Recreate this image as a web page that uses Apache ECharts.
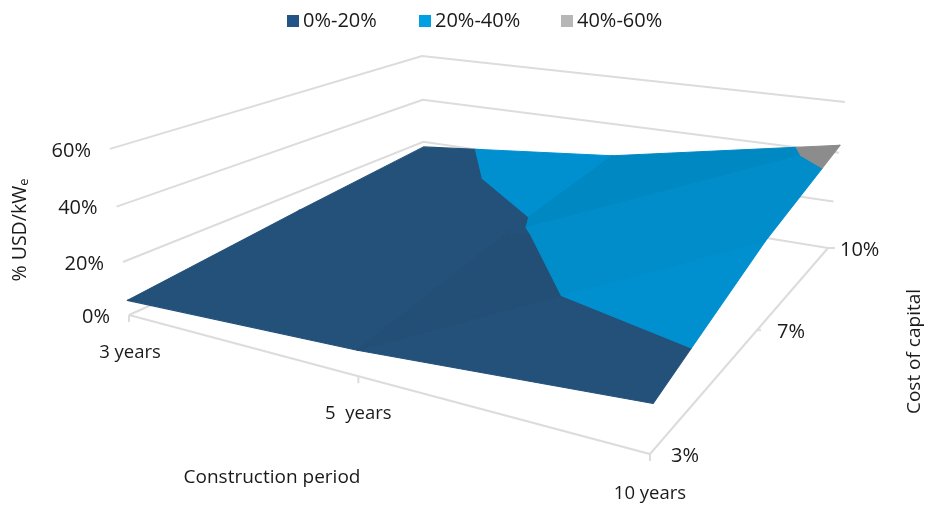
<!DOCTYPE html>
<html><head><meta charset="utf-8">
<style>html,body{margin:0;padding:0;background:#fff}#c{width:925px;height:505px}</style>
<script src="https://cdn.jsdelivr.net/npm/echarts@6/dist/echarts.min.js"></script>
</head><body><div id="c"></div>
<script>
// ---- values ----
const periods = ['3 years', '5  years', '10 years'];
const costs = ['3%', '7%', '10%'];
const valueTicks = [0, 20, 40, 60];
const cost3 = [5.6, 8.8, 15];
const cost7 = [12, 18.7, 32];
const cost10 = [17.5, 26, 43];
const bands = ['0%-20%', '20%-40%', '40%-60%'];
const bandLimits = [[0, 20], [20, 40], [40, 60]];

// ---- style / camera of the 3-D box ----
const surface = [cost3, cost7, cost10];
const uPos = [0, 0.505, 1], vPos = [0, 0.5, 1];
const F = {p00:[129,315], p10:[650,454], p11:[828,248], p01:[424,182], vanish:[472,3308]};
const invK = {p00:18.02, p10:13.46, p11:20.96, p01:24.8};
const legendColors = ['#235487', '#00a0e3', '#b7b7b7'];
const tones = [['#24517a', '#234e75'], ['#0090d0', '#0088c3', '#008dca'], ['#8c8c8c']];
// triangles over the grid: three [row,col] corners, then the tone used in each band
const tris = [
  [[0,0],[0,1],[1,1],0,0],[[0,0],[1,1],[1,0],0,0],
  [[0,1],[0,2],[1,2],0,0],[[0,1],[1,2],[1,1],1,2],
  [[1,0],[2,1],[2,0],0,0],[[1,0],[1,1],[2,1],0,0],
  [[1,1],[2,2],[2,1],0,1],[[1,1],[1,2],[2,2],0,2]
];

const s = [F.p00[0]-F.p10[0]+F.p11[0]-F.p01[0], F.p00[1]-F.p10[1]+F.p11[1]-F.p01[1]];
const d1 = [F.p10[0]-F.p11[0], F.p10[1]-F.p11[1]], d2 = [F.p01[0]-F.p11[0], F.p01[1]-F.p11[1]];
const det = d1[0]*d2[1]-d2[0]*d1[1];
const g = (s[0]*d2[1]-d2[0]*s[1])/det, h = (d1[0]*s[1]-s[0]*d1[1])/det;
const ax = F.p10[0]-F.p00[0]+g*F.p10[0], ay = F.p10[1]-F.p00[1]+g*F.p10[1];
const bx = F.p01[0]-F.p00[0]+h*F.p01[0], by = F.p01[1]-F.p00[1]+h*F.p01[1];

function project(u, v, z) {
  const w = g*u + h*v + 1;
  const x = (ax*u + bx*v + F.p00[0]) / w, y = (ay*u + by*v + F.p00[1]) / w;
  const ik = (1-u)*(1-v)*invK.p00 + u*(1-v)*invK.p10 + u*v*invK.p11 + (1-u)*v*invK.p01;
  const t = z/60, f = 0.938*t/(1-0.062*t);
  const q = f/ik;
  return [x + (x-F.vanish[0])*q, y + (y-F.vanish[1])*q];
}

// clip a triangle to a value band in (u,v,z), keeping straight contour edges
function clip(poly, limit, keepAbove) {
  const out = [];
  const inside = p => keepAbove ? p[2] >= limit : p[2] <= limit;
  poly.forEach((a, i) => {
    const b = poly[(i+1)%poly.length];
    if (inside(a)) out.push(a);
    if (inside(a) !== inside(b)) {
      const t = (limit-a[2])/(b[2]-a[2]);
      out.push([a[0]+t*(b[0]-a[0]), a[1]+t*(b[1]-a[1]), limit]);
    }
  });
  return out;
}
const polysByBand = bands.map((_, b) => {
  const list = [];
  tris.forEach(tr => {
    const tri = tr.slice(0,3).map(([r,c]) => [uPos[c], vPos[r], surface[r][c]]);
    let p = clip(tri, bandLimits[b][0], true);
    if (p.length) p = clip(p, bandLimits[b][1], false);
    if (p.length > 2) list.push({pts: p.map(q => project(q[0], q[1], q[2])), fill: tones[b][Math.min(tr[3+b] || 0, tones[b].length-1)]});
  });
  return list;
});

// box lines
const gridColor = '#dcdcdc';
const lines = [];
valueTicks.forEach(z => lines.push([project(0,0,z), project(0,1,z), project(1,1,z)]));
lines.push([project(0,0,0), project(1,0,0), project(1,1,0)]);
uPos.forEach(u => { const p = project(u,0,0); lines.push([p, [p[0], p[1]+7]]); });
const costTick = [0, 4, 7];
vPos.forEach((v,i) => { const p = project(1,v,0); lines.push([p, [p[0]+costTick[i], p[1]]]); });

const font = '"Open Sans"';
const textColor = '#1a1a1a';
const labels = [];
valueTicks.forEach(z => { const p = project(0,0,z); labels.push({p:[p[0]-19,p[1]+2], t:z+'%', a:'right', fs:20}); });
const periodDy = [38, 38, 40], periodDx = [1, 0, 0];
periods.forEach((t,i) => { const p = project(uPos[i],0,0); labels.push({p:[p[0]+periodDx[i],p[1]+periodDy[i]], t, a:'center', fs:18.5}); });
const costDx = [21, 20, 12];
costs.forEach((t,i) => { const p = project(1,vPos[i],0); labels.push({p:[p[0]+costDx[i],p[1]+2], t, a:'left', fs:20}); });

const chart = echarts.init(document.getElementById('c'), null, {renderer:'canvas'});
const bandSeries = bands.map((name, b) => ({
  name, type:'custom', coordinateSystem:'cartesian2d', silent:true, clip:false, z:3,
  itemStyle:{color:legendColors[b]},
  data: polysByBand[b].map((_, i) => [i, 0]),
  renderItem: (params, api) => {
    const poly = polysByBand[b][api.value(0)];
    return {type:'polygon', shape:{points: poly.pts.map(q => api.coord(q))},
      style:{fill:poly.fill, stroke:poly.fill, lineWidth:1.1, lineJoin:'round'}};
  }
}));
const legendLeft = [282, 414, 556];
chart.setOption({
  animation:false,
  backgroundColor:'#fff',
  grid:{left:0,right:0,top:0,bottom:0},
  xAxis:{type:'value',min:0,max:925,show:false},
  yAxis:{type:'value',min:0,max:505,inverse:true,show:false},
  legend: bands.map((name,b) => ({
    data:[name], left:legendLeft[b], top:6, icon:'rect', itemWidth:12, itemHeight:12, itemGap:0,
    selectedMode:false, textStyle:{fontFamily:font, fontSize:20, color:textColor, padding:[0,0,0,-1]}
  })),
  series:[
    {name:'box', type:'custom', coordinateSystem:'cartesian2d', silent:true, clip:false, z:1,
     data: lines.map((_,i)=>[i,0]),
     renderItem:(params,api)=>({type:'polyline', shape:{points:lines[api.value(0)].map(q=>api.coord(q))},
        style:{fill:null, stroke:gridColor, lineWidth:2}})},
    ...bandSeries,
    {name:'labels', type:'custom', coordinateSystem:'cartesian2d', silent:true, clip:false, z:5,
     data: labels.map((_,i)=>[i,0]),
     renderItem:(params,api)=>{ const l = labels[api.value(0)], c = api.coord(l.p);
       return {type:'text', style:{x:c[0], y:c[1], text:l.t, align:l.a, verticalAlign:'middle', fill:textColor, font:l.fs+'px '+font}}; }}
  ],
  graphic:[
    {type:'text', x:272, y:478, z:10, style:{text:'Construction period', align:'center', verticalAlign:'middle', fill:textColor, font:'19px '+font}},
    {type:'text', x:915, y:351.5, rotation:Math.PI/2, z:10, style:{text:'Cost of capital', align:'center', verticalAlign:'middle', fill:textColor, font:'19px '+font}},
    {type:'text', x:20, y:230, rotation:Math.PI/2, z:10, style:{align:'center', verticalAlign:'middle', fill:textColor,
      text:'{a|% USD/kW}{e|e}', rich:{a:{font:'19.5px '+font, fill:textColor}, e:{font:'13px '+font, fill:textColor, verticalAlign:'bottom', padding:[8,0,0,0]}}}}
  ]
});
</script></body></html>
